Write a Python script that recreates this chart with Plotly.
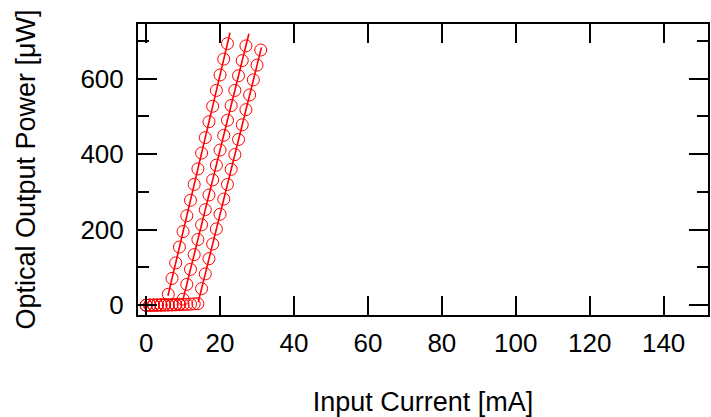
import plotly.graph_objects as go

# Light-current (L-I) measurements for three laser devices
current_a = [0, 1, 2, 3, 4, 5, 6, 7, 8, 9, 10, 11, 12, 13, 14, 15, 16, 17, 18, 19, 20, 21, 22]
power_a = [0.1, 0.2, 0.3, 0.5, 0.8, 1.5, 29, 71, 112, 154, 195, 237, 278, 320, 361, 403,
           444, 486, 527, 569, 610, 652, 693]

current_b = [0, 1, 2, 3, 4, 5, 6, 7, 8, 9, 10, 11, 12, 13, 14, 15, 16, 17, 18, 19, 20,
             21, 22, 23, 24, 25, 26, 27]
power_b = [0.1, 0.1, 0.2, 0.3, 0.4, 0.6, 0.8, 1.1, 1.6, 2.5, 16, 55, 95, 134, 174, 213,
           253, 292, 332, 371, 411, 450, 490, 529, 569, 608, 648, 687]

current_c = [0, 1, 2, 3, 4, 5, 6, 7, 8, 9, 10, 11, 12, 13, 14, 15, 16, 17, 18, 19, 20,
             21, 22, 23, 24, 25, 26, 27, 28, 29, 30, 31]
power_c = [0.1, 0.1, 0.1, 0.2, 0.3, 0.4, 0.5, 0.7, 0.9, 1.2, 1.6, 2.1, 2.8, 3.5, 4, 44,
           83, 123, 162, 202, 241, 281, 320, 360, 399, 439, 478, 518, 557, 597, 636, 676]

# Linear fits above threshold (end points of each fitted line)
fit_current_a = [5.9, 22.7]
fit_power_a = [25, 722]
fit_current_b = [10.0, 27.8]
fit_power_b = [16, 719]
fit_current_c = [14.1, 31.2]
fit_power_c = [8, 683]

x_tick_values = [0, 20, 40, 60, 80, 100, 120, 140]
y_tick_values = [0, 200, 400, 600]

RED = "#ff0000"
FONT = "Liberation Sans, Arial, sans-serif"

fig = go.Figure()

for cur, pwr in [(current_a, power_a), (current_b, power_b), (current_c, power_c)]:
    fig.add_trace(go.Scatter(
        x=cur, y=pwr, mode="markers",
        marker=dict(symbol="circle-open", size=12, color=RED, line=dict(width=1, color=RED)),
        showlegend=False, cliponaxis=False,
    ))

for cur, pwr in [(fit_current_a, fit_power_a), (fit_current_b, fit_power_b),
                 (fit_current_c, fit_power_c)]:
    fig.add_trace(go.Scatter(
        x=cur, y=pwr, mode="lines",
        line=dict(color=RED, width=1.6),
        showlegend=False,
    ))

axis_common = dict(
    showline=True, linecolor="black", linewidth=2, mirror="allticks",
    ticks="inside", tickcolor="black", tickwidth=2, ticklen=19,
    showgrid=False, zeroline=False,
    tickfont=dict(family=FONT, size=26, color="black"),
    title_font=dict(family=FONT, size=27, color="black"),
)

fig.update_xaxes(
    range=[-2.2, 152], tickvals=x_tick_values, ticklabelstandoff=4,
    title_text="Input Current [mA]", title_standoff=37,
    **axis_common,
)
fig.update_yaxes(
    range=[-26, 745], tickvals=y_tick_values, ticklabelstandoff=7,
    minor=dict(dtick=100, tick0=0, ticks="inside", ticklen=11, tickwidth=2, tickcolor="black"),
    title_text="Optical Output Power [\u03bcW]", title_standoff=37,
    **axis_common,
)

fig.update_layout(
    width=711, height=417,
    margin=dict(l=138, r=1, t=24, b=102),
    paper_bgcolor="white", plot_bgcolor="white",
    font=dict(family=FONT, color="black"),
)

fig.write_html("out.html")
